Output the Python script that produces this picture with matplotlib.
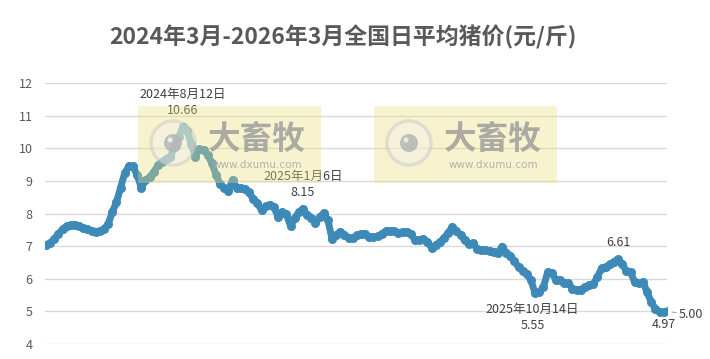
import matplotlib
matplotlib.use("Agg")
import matplotlib.pyplot as plt
from matplotlib.patches import Rectangle, Ellipse
import pandas as pd

plt.rcParams['font.family'] = ['Noto Sans CJK SC', 'DejaVu Sans']

title = "2024年3月-2026年3月全国日平均猪价(元/斤)"
start_date = "2024-03-01"
step = "5D"
prices = [
    7.04, 7.10, 7.22, 7.38, 7.52, 7.62, 7.65, 7.65, 7.61, 7.57,
    7.52, 7.48, 7.43, 7.47, 7.53, 7.68, 8.05, 8.35, 8.80, 9.25,
    9.45, 9.45, 9.18, 8.80, 9.02, 9.12, 9.28, 9.48, 9.60, 9.67,
    9.75, 10.05, 10.35, 10.66, 10.55, 10.15, 9.75, 9.98, 9.95, 9.80,
    9.55, 9.20, 8.90, 8.78, 8.70, 9.04, 8.80, 8.78, 8.75, 8.65,
    8.45, 8.33, 8.10, 8.22, 8.28, 8.20, 7.90, 8.05, 7.98, 7.62,
    7.86, 8.05, 8.15, 7.96, 7.88, 7.72, 7.90, 8.01, 7.81, 7.22,
    7.33, 7.45, 7.35, 7.25, 7.25, 7.33, 7.38, 7.38, 7.28, 7.28,
    7.30, 7.38, 7.46, 7.48, 7.46, 7.42, 7.44, 7.43, 7.38, 7.20,
    7.18, 7.23, 7.13, 6.96, 7.04, 7.12, 7.25, 7.40, 7.60, 7.47,
    7.35, 7.18, 7.08, 7.09, 6.92, 6.89, 6.89, 6.86, 6.82, 6.80,
    6.99, 6.80, 6.70, 6.55, 6.35, 6.25, 6.15, 5.95, 5.55, 5.60,
    5.75, 6.20, 6.18, 5.97, 5.96, 5.88, 5.86, 5.70, 5.66, 5.67,
    5.75, 5.81, 5.83, 6.05, 6.32, 6.36, 6.44, 6.52, 6.61, 6.45,
    6.24, 6.20, 5.90, 5.88, 5.90, 5.60, 5.28, 5.08, 4.99, 4.97,
    5.00,
]
y_ticks = [4, 5, 6, 7, 8, 9, 10, 11, 12]

# labelled points: (index, date text, value text, placement)
labels = [
    (33, "2024年8月12日", "10.66", "above"),
    (62, "2025年1月6日", "8.15", "above"),
    (118, "2025年10月14日", "5.55", "below"),
    (138, None, "6.61", "above"),
    (149, None, "4.97", "below"),
]
last_label = "5.00"

dates = pd.date_range(start_date, periods=len(prices), freq=step)

W, H = 710, 359
fig = plt.figure(figsize=(W / 100, H / 100), dpi=100)
ax = fig.add_axes([45 / W, 15 / H, 622 / W, 260.7 / H])

color = "#3d89b7"
ax.plot(dates, prices, color=color, lw=5, marker="o", ms=6.5,
        markeredgewidth=0, solid_capstyle="round", solid_joinstyle="round",
        zorder=3)

ax.set_ylim(4, 12)
ax.set_xlim(dates[0] - pd.Timedelta(days=1.2), dates[0] + pd.Timedelta(days=749))
ax.set_yticks(y_ticks)
ax.set_yticklabels([str(t) for t in y_ticks])
ax.tick_params(axis="y", length=0, pad=9, labelsize=9, labelcolor="#595959")
ax.set_xticks([])
for s in ax.spines.values():
    s.set_visible(False)
ax.yaxis.grid(True, color="#d9d9d9", lw=1)
ax.set_axisbelow(True)

tc = "#404040"
for idx, dtxt, vtxt, where in labels:
    xy = (dates[idx], prices[idx])
    if where == "above":
        ax.annotate(vtxt, xy, xytext=(0, 11.5), textcoords="offset points",
                    ha="center", va="center", fontsize=9, color=tc, zorder=6)
        if dtxt:
            ax.annotate(dtxt, xy, xytext=(0, 23.5), textcoords="offset points",
                        ha="center", va="center", fontsize=9, color=tc, zorder=6)
    else:
        off = -9 if dtxt is None else -23
        ax.annotate(vtxt, xy, xytext=(-2 if dtxt else 0, off), textcoords="offset points",
                    ha="center", va="center", fontsize=9, color=tc, zorder=6)
        if dtxt:
            ax.annotate(dtxt, xy, xytext=(-2, -11.5), textcoords="offset points",
                        ha="center", va="center", fontsize=9, color=tc, zorder=6)

# last value with leader line
ax.annotate(last_label, (dates[-1], prices[-1]), xytext=(8, -2.5),
            textcoords="offset points", ha="left", va="center", fontsize=9,
            color=tc, annotation_clip=False,
            arrowprops=dict(arrowstyle="-", color="#a6a6a6", lw=0.8,
                            shrinkA=0, shrinkB=3))

fig.text(343 / W, 1 - 37 / H, title, ha="center", va="center",
         fontsize=16.5, fontweight="bold", color="#595959")

# watermarks
def fx(x):
    return x / W

def fy(y):
    return 1 - y / H

for left in (138, 374):
    fig.patches.append(Rectangle((fx(left), fy(183)), 183 / W, 77 / H,
                                 transform=fig.transFigure, facecolor="#ece07a",
                                 alpha=0.36, edgecolor="none", zorder=5))
    cx, cy = left + 35, 143
    fig.patches.append(Ellipse((fx(cx), fy(cy)), 44 / W, 44 / H,
                               transform=fig.transFigure, facecolor="#f2f2ec",
                               alpha=0.45, edgecolor="#c4c4c4", lw=2.5, zorder=6))
    fig.patches.append(Ellipse((fx(cx), fy(cy)), 18 / W, 18 / H,
                               transform=fig.transFigure, facecolor="#b5b5b5",
                               alpha=0.85, edgecolor="none", zorder=7))
    fig.patches.append(Ellipse((fx(cx - 3), fy(cy - 3)), 5 / W, 5 / H,
                               transform=fig.transFigure, facecolor="#eeeeee",
                               alpha=0.9, edgecolor="none", zorder=8))
    fig.text(fx(left + 119), fy(139.5), "大畜牧", ha="center", va="center",
             fontsize=23.5, fontweight="bold", color="#a3a3a0", alpha=0.9, zorder=7)
    fig.text(fx(left + 119), fy(164.5), "www.dxumu.com", ha="center", va="center",
             fontsize=7.5, color="#ababab", alpha=0.9, zorder=7,
             family=["DejaVu Sans"])

fig.savefig("out.png", dpi=100)
